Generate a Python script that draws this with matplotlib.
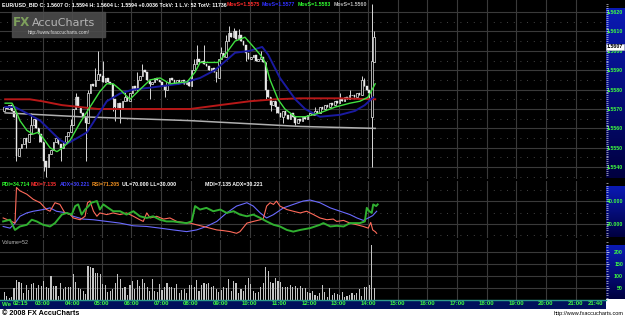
import numpy as np
import matplotlib.pyplot as plt
from matplotlib.colors import LinearSegmentedColormap
from matplotlib.patches import Rectangle

plt.rcParams['font.family'] = ['Liberation Sans', 'DejaVu Sans']

W, H = 625, 318

# ---------------------------------------------------------------- data
# 5 minute EUR/USD bars, x axis in minutes after midnight, first bar 01:42
bar_start = 102
close = [1.5571, 1.5570, 1.5572, 1.5569, 1.5566, 1.5546, 1.5550, 1.5552, 1.5555, 1.5553,
         1.5557, 1.5562, 1.5565, 1.5560, 1.5557, 1.5553, 1.5543, 1.5540, 1.5547, 1.5549,
         1.5553, 1.5555, 1.5552, 1.5550, 1.5553, 1.5556, 1.5558, 1.5562, 1.5570, 1.5576,
         1.5571, 1.5568, 1.5566, 1.5563, 1.5578, 1.5583, 1.5582, 1.5585, 1.5588, 1.5587,
         1.5584, 1.5586, 1.5584, 1.5583, 1.5575, 1.5571, 1.5573, 1.5570, 1.5574, 1.5576,
         1.5574, 1.5578, 1.5582, 1.5580, 1.5585, 1.5587, 1.5590, 1.5589, 1.5585, 1.5583,
         1.5584, 1.5586, 1.5585, 1.5584, 1.5582, 1.5580, 1.5584, 1.5586, 1.5585, 1.5583,
         1.5585, 1.5584, 1.5585, 1.5583, 1.5584, 1.5582, 1.5590, 1.5593, 1.5596, 1.5594,
         1.5595, 1.5593, 1.5592, 1.5590, 1.5591, 1.5589, 1.5586, 1.5596, 1.5599, 1.5597,
         1.5605, 1.5609, 1.5607, 1.5610, 1.5606, 1.5608, 1.5605, 1.5603, 1.5599, 1.5596,
         1.5597, 1.5598, 1.5595, 1.5596, 1.5597, 1.5594, 1.5580, 1.5576, 1.5572, 1.5574,
         1.5571, 1.5568, 1.5566, 1.5569, 1.5567, 1.5565, 1.5568, 1.5566, 1.5563, 1.5565,
         1.5564, 1.5566, 1.5565, 1.5567, 1.5568, 1.5567, 1.5569, 1.5568, 1.5571, 1.5570,
         1.5572, 1.5571, 1.5573, 1.5572, 1.5574, 1.5573, 1.5575, 1.5574, 1.5576, 1.5575,
         1.5577, 1.5577, 1.5576, 1.5578, 1.5577, 1.5585, 1.5582, 1.5580, 1.5578, 1.5595,
         1.5607]
open_fix = {0: 1.5569, 149: 1.5566, 150: 1.5594}
high_fix = {5: 1.5568, 11: 1.5568, 27: 1.5565, 29: 1.5578, 34: 1.5580, 37: 1.5591,
            38: 1.5600, 40: 1.5595, 49: 1.5579, 54: 1.5589, 56: 1.5593, 77: 1.5596,
            78: 1.5603, 81: 1.5603, 88: 1.5602, 90: 1.5608, 91: 1.5613, 93: 1.5612,
            95: 1.5611, 104: 1.5600, 126: 1.5571, 136: 1.5578, 140: 1.5580,
            145: 1.5587, 146: 1.5586, 149: 1.5624, 150: 1.5610}
low_fix = {5: 1.5543, 9: 1.5550, 14: 1.5553, 16: 1.5538, 17: 1.5535, 18: 1.5541,
           23: 1.5543, 33: 1.5543, 44: 1.5569, 45: 1.5564, 47: 1.5563, 59: 1.5575,
           65: 1.5576, 86: 1.5584, 98: 1.5595, 106: 1.5575, 108: 1.5569, 110: 1.5568,
           113: 1.5563, 118: 1.5562, 148: 1.5575, 149: 1.5540}
volume = [35, 17, 7, 11, 49, 83, 76, 72, 28, 62, 42, 67, 72, 49, 62, 58, 81, 56, 49, 100,
          58, 58, 17, 72, 44, 53, 56, 56, 108, 76, 51, 44, 38, 25, 142, 139, 132, 114, 114, 107,
          67, 62, 35, 39, 44, 69, 107, 86, 49, 53, 21, 62, 81, 44, 83, 58, 86, 69, 53, 39,
          86, 39, 35, 67, 42, 53, 72, 53, 53, 49, 67, 31, 42, 44, 28, 62, 62, 56, 83, 39,
          62, 72, 67, 72, 53, 58, 44, 35, 42, 53, 49, 86, 39, 81, 72, 28, 44, 39, 62, 93,
          67, 39, 31, 35, 53, 72, 136, 121, 76, 69, 90, 81, 76, 56, 53, 56, 62, 56, 58, 51,
          58, 49, 49, 35, 31, 38, 21, 17, 31, 62, 35, 14, 49, 21, 28, 25, 21, 35, 14, 17,
          21, 28, 21, 28, 44, 17, 53, 56, 62, 229, 52]

# moving averages (minute, price)
ma_gray_t = [104, 256, 479, 702, 854]
ma_gray = [1.5568, 1.5566, 1.5564, 1.5561, 1.5560]
ma_red_t = [104, 154, 179, 219, 256, 292, 377, 479, 539, 600, 651, 702, 783, 854]
ma_red = [1.5575, 1.5575, 1.5574, 1.5572, 1.5571, 1.5570, 1.5570, 1.5570, 1.5572,
          1.5574, 1.5575, 1.55755, 1.55755, 1.5575]
ma_blue_t = [104, 124, 154, 175, 195, 215, 229, 250, 270, 290, 310, 337, 363, 398, 458,
             499, 529, 570, 600, 625, 637, 661, 692, 712, 742, 783, 813, 833, 850]
ma_blue = [1.5571, 1.5571, 1.5567, 1.5564, 1.5559, 1.5554, 1.5552, 1.5555, 1.5558, 1.5566,
           1.5574, 1.5578, 1.5580, 1.5581, 1.5583, 1.5586, 1.5590, 1.5599, 1.5600, 1.5602,
           1.5598, 1.5586, 1.5575, 1.5570, 1.5566, 1.5567, 1.5569, 1.5572, 1.5576]
ma_green_t = [104, 118, 124, 134, 148, 160, 171, 181, 195, 209, 221, 236, 256, 276, 296,
              310, 323, 337, 357, 377, 398, 418, 438, 473, 489, 499, 519, 535, 550, 570,
              590, 604, 621, 631, 641, 657, 671, 692, 712, 742, 773, 803, 823, 839, 850, 854]
ma_green = [1.5573, 1.5573, 1.5570, 1.5564, 1.5559, 1.5557, 1.5558, 1.5555, 1.5550, 1.5548,
            1.5550, 1.5554, 1.5563, 1.5571, 1.5579, 1.5583, 1.5583, 1.5580, 1.5575, 1.5580,
            1.5585, 1.5586, 1.5583, 1.5584, 1.5589, 1.5594, 1.5594, 1.5594, 1.5598, 1.5605,
            1.5607, 1.5603, 1.5598, 1.5594, 1.5585, 1.5575, 1.5570, 1.5566, 1.5566, 1.5568,
            1.5571, 1.5573, 1.5574, 1.5576, 1.5581, 1.5583]

# DMI panel (minute, value)
pdi_t = [100, 114, 124, 134, 148, 158, 168, 181, 195, 205, 219, 229, 239, 246, 252, 259,
         266, 273, 279, 290, 296, 303, 313, 323, 337, 350, 364, 377, 391, 404, 418, 431,
         445, 458, 472, 482, 489, 499, 512, 526, 540, 553, 567, 580, 594, 607, 621, 634,
         648, 661, 675, 688, 702, 722, 742, 749, 763, 776, 790, 803, 823, 833, 837, 842,
         847, 850, 856, 859]
pdi = [22.1, 23.6, 14.5, 17.6, 19.1, 23.6, 22.1, 19.1, 17.6, 20.6, 28.2, 29.7, 28.2, 35.8,
       37.3, 28.2, 32.7, 35.8, 38.8, 40.3, 32.7, 37.3, 34.2, 31.2, 31.2, 28.2, 31.2, 26.7,
       25.2, 26.7, 23.6, 22.1, 22.1, 21.2, 20.6, 22.1, 35.8, 32.7, 34.2, 31.2, 32.7, 29.7,
       31.2, 28.2, 26.7, 28.2, 25.2, 22.1, 19.1, 17.6, 14.5, 13.0, 14.5, 16.1, 19.1, 20.6,
       17.6, 18.2, 17.6, 20.6, 20.6, 22.1, 34.2, 31.2, 29.7, 37.3, 35.8, 37.3]
mdi_t = [100, 117, 124, 127, 134, 148, 161, 175, 188, 195, 205, 215, 225, 236, 242, 256,
         266, 271, 276, 283, 290, 296, 310, 323, 337, 350, 364, 377, 384, 391, 398, 411,
         425, 438, 452, 465, 479, 492, 506, 519, 533, 546, 560, 573, 580, 594, 607, 621,
         627, 634, 641, 648, 654, 661, 675, 688, 702, 715, 729, 742, 756, 769, 776, 790,
         803, 817, 830, 840, 845, 849, 854, 857]
mdi = [25.2, 22.1, 20.6, 52.4, 49.4, 46.4, 41.8, 38.8, 32.7, 31.2, 38.8, 37.3, 29.7, 28.2,
       25.2, 23.6, 26.7, 38.8, 40.3, 31.2, 26.7, 29.7, 28.2, 29.7, 28.2, 29.7, 26.7, 23.6,
       22.1, 29.7, 25.2, 26.7, 24.2, 25.2, 22.1, 21.2, 20.6, 19.1, 17.6, 16.1, 14.5, 13.9,
       13.0, 11.5, 13.0, 20.6, 22.1, 23.6, 24.2, 35.8, 38.8, 37.3, 40.3, 35.8, 32.7, 31.2,
       29.7, 31.2, 28.2, 25.2, 23.6, 24.2, 22.1, 23.0, 20.6, 19.1, 17.6, 16.1, 21.2, 14.5,
       13.0, 11.5]
adx_t = [100, 114, 124, 134, 148, 161, 181, 195, 208, 229, 242, 262, 283, 310, 337, 364,
         391, 418, 445, 472, 492, 512, 533, 553, 573, 594, 607, 621, 634, 648, 668, 688,
         708, 722, 742, 763, 783, 803, 817, 830, 840, 849, 857]
adx = [17.6, 16.1, 20.6, 26.7, 29.7, 31.2, 32.7, 34.2, 31.2, 29.7, 26.7, 24.2, 23.6, 22.1,
       20.6, 18.2, 17.6, 16.1, 14.5, 13.0, 14.5, 17.6, 22.1, 29.7, 35.8, 38.8, 35.8, 29.7,
       25.2, 28.2, 34.2, 37.3, 40.3, 41.2, 38.8, 34.2, 31.2, 28.2, 25.2, 23.0, 25.2, 27.3,
       31.2]

hour_labels = ['02:15', '03:00', '04:00', '05:00', '06:00', '07:00', '08:00', '09:00',
               '10:00', '11:00', '12:00', '13:00', '14:00', '15:00', '16:00', '17:00',
               '18:00', '19:00', '20:00', '21:00', '21:40']
price_ticks = [1.5540, 1.5550, 1.5560, 1.5570, 1.5580, 1.5590, 1.5600, 1.5610, 1.5620]
dmi_ticks = [20, 40]
vol_ticks = [50, 100, 150, 200]

header = [('EUR/USD_BID C: 1.5607 O: 1.5594 H: 1.5604 L: 1.5594 +0.0036 TckV: 1 L.V: 52 TotV: 11736', 'white', 2),
          ('MovS=1.5575', '#ff2a2a', 227), ('MovS=1.5577', '#3030ff', 262),
          ('MovS=1.5583', '#30ff30', 298), ('MovS=1.5560', '#b8b8b8', 334)]
dmi_header = [('PDI=34.714', '#30ff30', 2), ('MDI=7.135', '#ff3030', 31),
              ('ADX=30.221', '#4040ff', 60), ('RSI=71.205', '#f09020', 92),
              ('UL=70.000 LL=30.000', 'white', 122), ('MDI=7.135 ADX=30.221', 'white', 205)]

# ---------------------------------------------------------------- layout helpers
XLIM = (93.6, 1321.8)
GRID = '#3a3a3a'
LAB = '#40ff40'
FS = 3.8
hour_min = [int(s[:2]) * 60 + int(s[3:]) for s in hour_labels]


def px_box(x0, y0, x1, y1):
    return [x0 / W, 1 - y1 / H, (x1 - x0) / W, (y1 - y0) / H]


fig = plt.figure(figsize=(W / 100, H / 100), dpi=100, facecolor='black')
strip_cmap = LinearSegmentedColormap.from_list('strip', ['#000040', '#0a1ab4'])


def strip(y0, y1):
    a = fig.add_axes(px_box(606, y0, 625, y1), zorder=1)
    a.imshow(np.linspace(0, 1, 64).reshape(-1, 1), cmap=strip_cmap, aspect='auto',
             origin='lower', extent=(0, 1, 0, 1))
    a.set_axis_off()


def panel(y0, y1, ylim, ticks, labels, minor):
    a = fig.add_axes(px_box(0, y0, 606, y1), zorder=2)
    a.set_facecolor('black')
    a.set_xlim(*XLIM)
    a.set_ylim(*ylim)
    for s in a.spines.values():
        s.set_visible(False)
    a.set_xticks(hour_min[1:-1])
    a.tick_params(axis='x', length=0, labelbottom=False)
    a.grid(axis='x', color=GRID, lw=0.8)
    a.yaxis.tick_right()
    a.set_yticks(ticks, labels)
    a.set_yticks(minor, minor=True)
    a.tick_params(axis='y', which='major', colors='white', length=2.5, width=0.5,
                  labelcolor=LAB, labelsize=FS, pad=9.8)
    a.tick_params(axis='y', which='minor', colors='white', length=1.2, width=0.4)
    for lab in a.get_yticklabels():
        lab.set_ha('right')
        lab.set_fontweight('bold')
    return a


# bottom white band
fig.add_artist(Rectangle((0, 0), 1, 19 / H, transform=fig.transFigure,
                         color='white', zorder=0))

# ---------------------------------------------------------------- price panel
strip(8, 178)
ax = panel(0, 179, (1.55339, 1.56262), price_ticks, ['%.4f' % p for p in price_ticks],
           np.arange(1.5536, 1.5625, 0.0001))
for p in price_ticks:
    ax.axhline(p, color=GRID, lw=0.8, zorder=0)
    ax.axhline(p - 0.0005, color='#5a5a5a', lw=0.6, ls=(0, (1, 7)), zorder=0)

n = len(close)
t_bar = bar_start + 5 * np.arange(n)
opens = np.array([open_fix.get(i, close[i - 1]) for i in range(n)])
closes = np.array(close)
highs = np.array([max(opens[i], closes[i], high_fix.get(i, 0)) for i in range(n)])
lows = np.array([min(opens[i], closes[i], low_fix.get(i, 9)) for i in range(n)])
up = closes >= opens
ax.vlines(t_bar, lows, highs, color='#d8d8d8', lw=0.7, zorder=2)
ax.bar(t_bar[up], (closes - opens)[up], bottom=opens[up], width=3.2,
       color='black', edgecolor='#f0f0f0', lw=0.5, zorder=2)
ax.bar(t_bar[~up], (closes - opens)[~up], bottom=opens[~up], width=3.2,
       color='#e8e8e8', edgecolor='#e8e8e8', lw=0.3, zorder=2)

ax.plot(ma_gray_t, ma_gray, color='#b0b0b0', lw=1.1, zorder=3)
ax.plot(ma_red_t, ma_red, color='#b81818', lw=1.4, zorder=3)
ax.plot(ma_blue_t, ma_blue, color='#1a1aa0', lw=1.4, zorder=3)
ax.plot(ma_green_t, ma_green, color='#40e040', lw=1.0, zorder=4)

# last price tag on the price scale
fig.text(623 / W, 1 - 47 / H, '%.4f' % close[-1], ha='right', va='center', fontsize=FS,
         fontweight='bold', color='black', zorder=10,
         bbox=dict(boxstyle='square,pad=0.12', fc='white', ec='#c0c0c0', lw=0.4))

# ---------------------------------------------------------------- DMI panel
strip(186, 237)
ax_i = panel(181, 238, (7.3, 58.2), dmi_ticks, ['%.3f' % v for v in dmi_ticks],
             np.arange(8, 58, 2))
for v in dmi_ticks:
    ax_i.axhline(v, color=GRID, lw=0.8, zorder=0)
for v in (10, 30, 50):
    ax_i.axhline(v, color='#5a5a5a', lw=0.6, ls=(0, (1, 7)), zorder=0)
ax_i.plot(adx_t, adx, color='#6a6aff', lw=0.8)
ax_i.plot(mdi_t, mdi, color='#ff6a5a', lw=0.8)
ax_i.plot(pdi_t, pdi, color='#30b030', lw=1.4)

# ---------------------------------------------------------------- volume panel
strip(245, 299)
ax_v = panel(240, 300, (0, 250), vol_ticks, [str(v) for v in vol_ticks],
             np.arange(10, 250, 10))
for v in vol_ticks:
    ax_v.axhline(v, color=GRID, lw=0.8, zorder=0)
ax_v.bar(t_bar, volume, width=2.3, color='#c4c4c4', zorder=2)

# ---------------------------------------------------------------- time band
ax_b = fig.add_axes(px_box(0, 300, 606, 309), zorder=3)
ax_b.set_facecolor('#00105c')
ax_b.set_xlim(*XLIM)
ax_b.set_ylim(0, 1)
ax_b.set_yticks([])
ax_b.set_xticks(hour_min, hour_labels)
ax_b.tick_params(axis='x', length=0, pad=-5.6, labelsize=4.4, labelcolor=LAB)
for lab in ax_b.get_xticklabels():
    lab.set_fontweight('bold')
for side, s in ax_b.spines.items():
    s.set_visible(side == 'top')
ax_b.spines['top'].set_color('#2a9a8a')
ax_b.spines['top'].set_linewidth(1.0)
fig.text(2 / W, 1 - 304.5 / H, 'We', color=LAB, fontsize=4.4, fontweight='bold',
         va='center', ha='left', zorder=5)

# ---------------------------------------------------------------- texts
for txt, col, x in header:
    fig.text(x / W, 1 - 5 / H, txt, color=col, fontsize=FS, fontweight='bold',
             va='center', ha='left', zorder=5)
for txt, col, x in dmi_header:
    fig.text(x / W, 1 - 184.5 / H, txt, color=col, fontsize=FS, fontweight='bold',
             va='center', ha='left', zorder=5)
fig.text(2 / W, 1 - 242.5 / H, 'Volume=52', color='#bdbdbd', fontsize=FS,
         va='center', ha='left', zorder=5)

# watermark
fig.add_artist(Rectangle((12 / W, 1 - 37 / H), 93 / W, 25 / H, transform=fig.transFigure,
                         color='#4c4c4c', alpha=0.9, zorder=5))
fig.text(13 / W, 1 - 23 / H, 'FX', color='#7ea05c', fontsize=8.6, fontweight='bold',
         family='DejaVu Sans', va='center', ha='left', zorder=6)
fig.text(32 / W, 1 - 23 / H, 'AccuCharts', color='#b4b4b4', fontsize=8.0,
         family='DejaVu Sans', va='center', ha='left', zorder=6)
fig.text(28 / W, 1 - 32.5 / H, 'http://www.fxaccucharts.com/', color='#e0e0e0',
         fontsize=3.4, va='center', ha='left', zorder=6)

fig.text(2 / W, 1 - 313.5 / H, '\u00a9 2008 FX AccuCharts', color='black', fontsize=5.2,
         fontweight='bold', va='center', ha='left', zorder=5)
fig.text(624 / W, 1 - 314 / H, 'http://www.fxaccucharts.com', color='black',
         fontsize=4.0, va='center', ha='right', zorder=5)

fig.savefig('out.png', dpi=100, facecolor='black')
